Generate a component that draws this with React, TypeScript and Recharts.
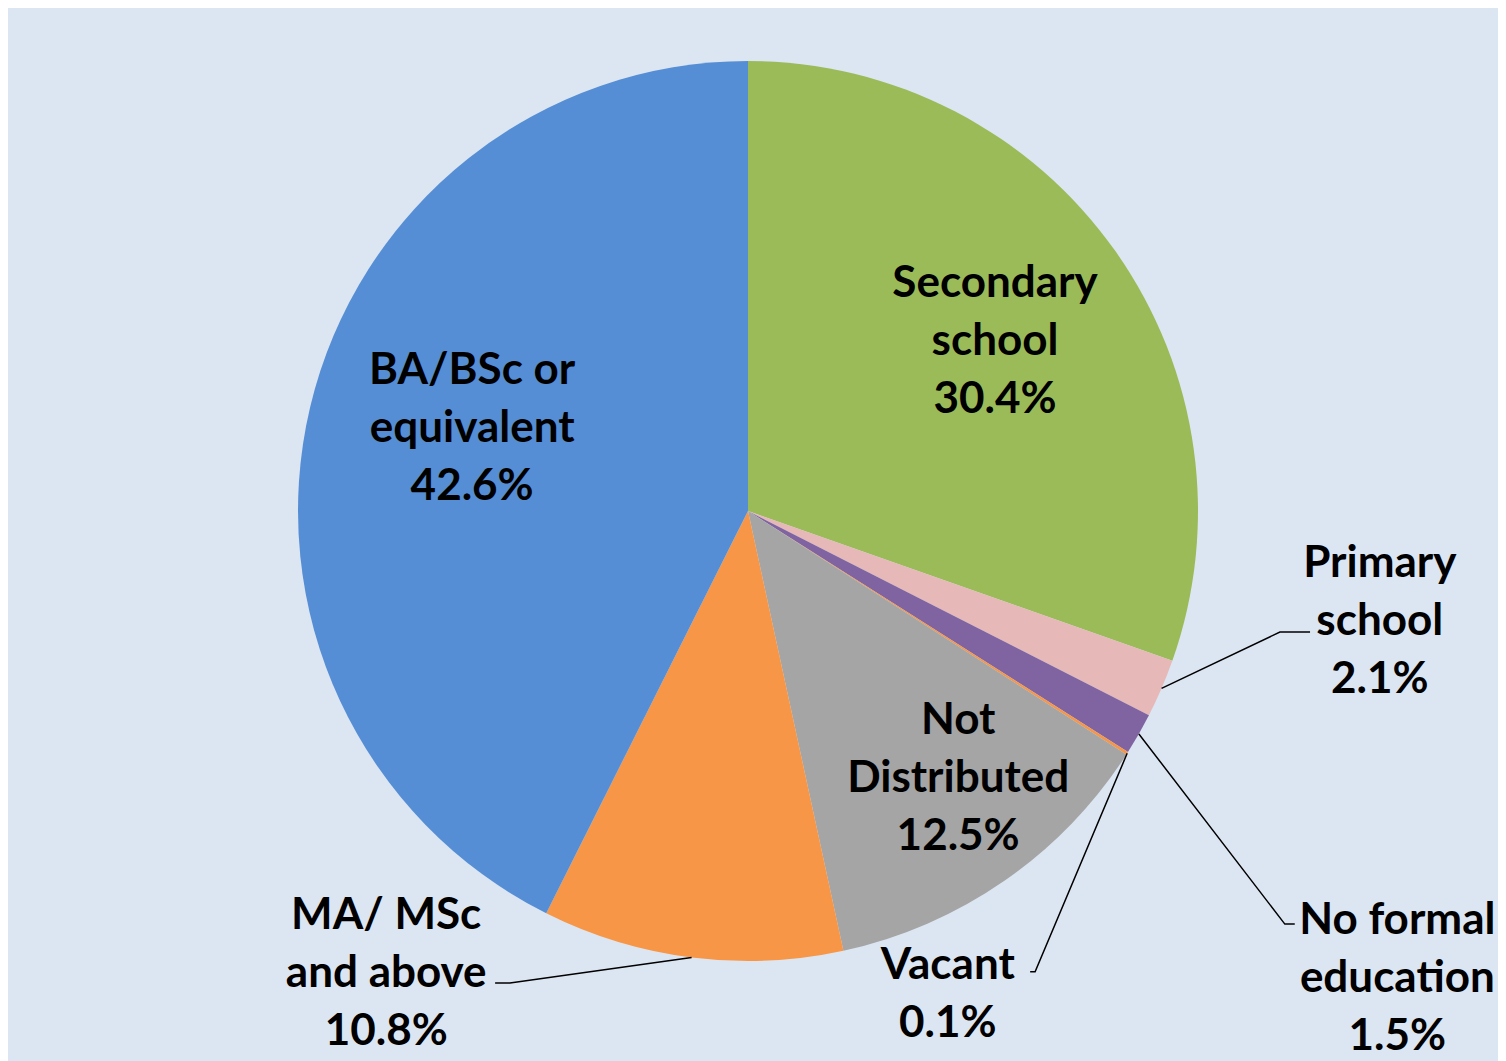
import { PieChart, Pie, Cell } from "recharts";

const categories = [
  "Secondary school",
  "Primary school",
  "No formal education",
  "Vacant",
  "Not Distributed",
  "MA/ MSc and above",
  "BA/BSc or equivalent",
];
const shares = [30.4, 2.1, 1.5, 0.1, 12.5, 10.8, 42.6];
const labelLines = [
  ["Secondary", "school"],
  ["Primary", "school"],
  ["No formal", "education"],
  ["Vacant"],
  ["Not", "Distributed"],
  ["MA/ MSc", "and above"],
  ["BA/BSc or", "equivalent"],
];
const colors = ["#9bbb59", "#e6b9b8", "#8064a2", "#f79646", "#a5a5a5", "#f79646", "#558ed5"];

const data = categories.map((name, i) => ({ name, value: shares[i], idx: i }));

// label placement, in units of the outer radius, relative to the centre
const layout: Record<number, { tx: number; ty: number; elbow?: [number, number]; end?: [number, number] }> = {
  0: { tx: 0.549, ty: -0.384 },
  1: { tx: 1.404, ty: 0.238, elbow: [1.182, 0.269], end: [1.249, 0.269] },
  2: { tx: 1.443, ty: 1.031, elbow: [1.193, 0.918], end: [1.215, 0.918] },
  3: { tx: 0.444, ty: 1.067, elbow: [0.638, 1.024], end: [0.627, 1.024] },
  4: { tx: 0.467, ty: 0.587 },
  5: { tx: -0.804, ty: 1.02, elbow: [-0.529, 1.049], end: [-0.562, 1.049] },
  6: { tx: -0.613, ty: -0.191 },
};

const RAD = Math.PI / 180;
const LINE_H = 58;

function renderLabel(props: any) {
  const { cx, cy, midAngle, outerRadius, payload } = props;
  const i = payload.idx;
  const l = layout[i];
  const lines = [...labelLines[i], `${shares[i].toFixed(1)}%`];
  const tx = cx + l.tx * outerRadius;
  const ty = cy + l.ty * outerRadius;
  const top = ty - ((lines.length - 1) * LINE_H) / 2;
  let leader = null;
  if (l.elbow && l.end) {
    const sx = cx + outerRadius * Math.cos(-midAngle * RAD);
    const sy = cy + outerRadius * Math.sin(-midAngle * RAD);
    const ex = cx + l.elbow[0] * outerRadius;
    const ey = cy + l.elbow[1] * outerRadius;
    const fx = cx + l.end[0] * outerRadius;
    const fy = cy + l.end[1] * outerRadius;
    leader = (
      <polyline
        points={`${sx},${sy} ${ex},${ey} ${fx},${fy}`}
        fill="none"
        stroke="#000"
        strokeWidth={1.5}
      />
    );
  }
  return (
    <g key={`lbl-${i}`}>
      {leader}
      <text
        x={tx}
        y={top}
        textAnchor="middle"
        fill="#000"
        fontFamily="Lato, 'Open Sans', sans-serif"
        fontWeight={700}
        fontSize={44}
      >
        {lines.map((t, k) => (
          <tspan key={k} x={tx} y={top + k * LINE_H} dominantBaseline="central">
            {t}
          </tspan>
        ))}
      </text>
    </g>
  );
}

export default function App() {
  return (
    <div style={{ width: 1498, height: 1053, background: "#dce6f2" }}>
      <style>{`html, body { overflow: hidden; }`}</style>
      <PieChart width={1498} height={1053} style={{ overflow: "visible" }}>
        <Pie
          data={data}
          dataKey="value"
          nameKey="name"
          cx={735}
          cy={498}
          outerRadius={450}
          startAngle={90}
          endAngle={-270}
          stroke="none"
          label={renderLabel}
          labelLine={false}
          isAnimationActive={false}
        >
          {data.map((d, i) => (
            <Cell key={d.name} fill={colors[i]} />
          ))}
        </Pie>
      </PieChart>
    </div>
  );
}
